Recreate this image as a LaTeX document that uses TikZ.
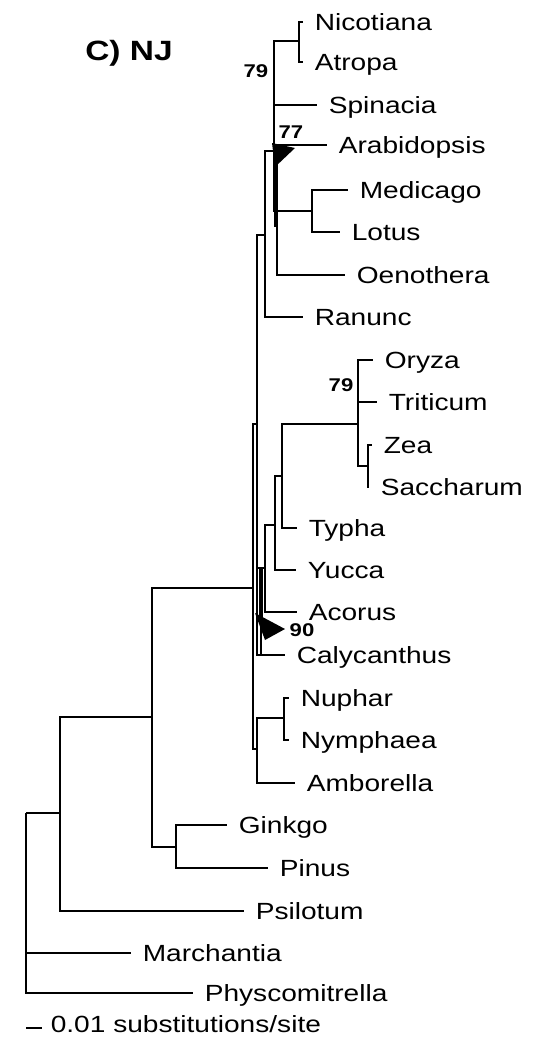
\documentclass[tikz,border=0pt]{standalone}
\usepackage{fontspec}
\setmainfont{Liberation Sans}[FakeStretch=1.2]
\usepackage{tikz}

\tikzset{
  tip/.style={anchor=west,inner xsep=11bp,inner ysep=0pt,text height=16.8bp,text depth=0pt,font=\fontsize{23.5}{28}\selectfont},
  boot/.style={inner sep=0pt,font=\bfseries\fontsize{18.5}{22}\selectfont}
}

\begin{document}
\begin{tikzpicture}[x=1bp,y=-1bp,line width=1.6bp]
  \useasboundingbox (0,0) rectangle (548,1037);
  % 标题
  \node[font=\bfseries\fontsize{28}{32}\selectfont,inner sep=0pt] (ttl) at (129,53) {C) NJ};
  % 叶节点
  \node[tip] (nic) at (303,22) {Nicotiana};
  \node[tip] (atr) at (303,62) {Atropa};
  \node[tip] (spi) at (317,105) {Spinacia};
  \node[tip] (ara) at (327,145) {Arabidopsis};
  \node[tip] (med) at (348,190) {Medicago};
  \node[tip] (lot) at (340,232) {Lotus};
  \node[tip] (oen) at (345,275) {Oenothera};
  \node[tip] (ran) at (303,317) {Ranunc};
  \node[tip] (ory) at (373,360) {Oryza};
  \node[tip] (tri) at (377,402) {Triticum};
  \node[tip] (zea) at (372,445) {Zea};
  \node[tip] (sac) at (369,487) {Saccharum};
  \node[tip] (typ) at (297,528) {Typha};
  \node[tip] (yuc) at (296,570) {Yucca};
  \node[tip] (aco) at (297,612) {Acorus};
  \node[tip] (cal) at (285,655) {Calycanthus};
  \node[tip] (nup) at (289,698) {Nuphar};
  \node[tip] (nym) at (289,740) {Nymphaea};
  \node[tip] (amb) at (295,783) {Amborella};
  \node[tip] (gin) at (227,825) {Ginkgo};
  \node[tip] (pin) at (268,868) {Pinus};
  \node[tip] (psi) at (244,911) {Psilotum};
  \node[tip] (mar) at (131,953) {Marchantia};
  \node[tip] (phy) at (193,993) {Physcomitrella};
  % 内部节点
  \coordinate (nA) at (299,41);
  \coordinate (nU) at (274,151);
  \coordinate (nR) at (277,211);
  \coordinate (nM) at (312,211);
  \coordinate (nE) at (265,235);
  \coordinate (nZ) at (368,466);
  \coordinate (nG) at (358,424);
  \coordinate (nP) at (282,476);
  \coordinate (nMo) at (275,525);
  \coordinate (nAc) at (265,568);
  \coordinate (nCa) at (261,568);
  \coordinate (nB) at (257,424);
  \coordinate (nN) at (284,718);
  \coordinate (nAm) at (257,749);
  \coordinate (nAng) at (253,588);
  \coordinate (nGy) at (176,847);
  \coordinate (nS) at (152,717);
  \coordinate (nV) at (60,813);
  \coordinate (root) at (26,813);
  % 真双子叶
  \draw (nA) |- (nic.west); \draw (nA) |- (atr.west);
  \draw (nU) |- (nA); \draw (nU) |- (spi.west); \draw (nU) |- (ara.west); \draw (nU) |- (nR);
  \draw (nM) |- (med.west); \draw (nM) |- (lot.west);
  \draw (nR) |- (nM); \draw (nR) |- (oen.west);
  \draw (nE) |- (nU); \draw (nE) |- (ran.west);
  \fill (273.5,150) rectangle (278,227);
  \fill (272,143) -- (295,148) -- (275,167) -- cycle;
  % 单子叶
  \draw (nZ) |- (zea.west); \draw (nZ) |- (sac.west);
  \draw (nG) |- (ory.west); \draw (nG) |- (tri.west); \draw (nG) |- (nZ);
  \draw (nP) |- (nG); \draw (nP) |- (typ.west);
  \draw (nMo) |- (nP); \draw (nMo) |- (yuc.west);
  \draw (nAc) |- (nMo); \draw (nAc) |- (aco.west);
  \draw (nCa) |- (nAc); \draw (nCa) |- (cal.west);
  \fill (259,568) rectangle (263,617);
  \fill (255,613) -- (285,629) -- (265,640) -- cycle;
  % 被子植物
  \draw (nB) |- (nE); \draw (nB) |- (nCa); \draw (nB) |- (cal.west);
  \draw (nN) |- (nup.west); \draw (nN) |- (nym.west);
  \draw (nAm) |- (nN); \draw (nAm) |- (amb.west);
  \draw (nAng) |- (nB); \draw (nAng) |- (nAm);
  % 裸子植物与外群
  \draw (nGy) |- (gin.west); \draw (nGy) |- (pin.west);
  \draw (nS) |- (nAng); \draw (nS) |- (nGy);
  \draw (nV) |- (nS); \draw (nV) |- (psi.west);
  \draw (root) |- (nV); \draw (root) |- (mar.west); \draw (root) |- (phy.west);
  % 支持率
  \node[boot] (b79a) at (256,71) {79};
  \node[boot] (b77) at (291,132) {77};
  \node[boot] (b79b) at (341,385) {79};
  \node[boot] (b90) at (302,630) {90};
  % 标尺
  \draw (26,1028) -- (42,1028);
  \node[tip,inner xsep=8bp] (scl) at (42,1024) {0.01 substitutions/site};
\end{tikzpicture}
\end{document}
